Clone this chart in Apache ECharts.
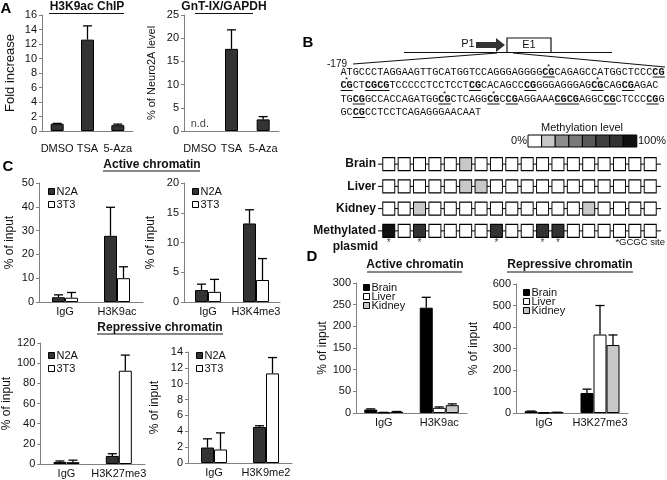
<!DOCTYPE html>
<html>
<head>
<meta charset="utf-8">
<script src="https://cdn.jsdelivr.net/npm/echarts@6/dist/echarts.min.js"></script>
<style>
	html, body { margin: 0; padding: 0; background: #fff; }
	#main { width: 667px; height: 480px; }
</style>
</head>
<body>
<div id="main"></div>
<script>
// ---- A: H3K9ac ChIP / GnT-IX expression ----
var aCats = ['DMSO', 'TSA', '5-Aza']
var chipFold = [1.0, 12.6, 0.8]
var chipSd = [0.05, 1.9, 0.15]
var gntLevel = [null, 17.7, 2.5]
var gntSd = [null, 4.1, 0.6]

// ---- B: methylation (0 = white ... 7 = black) ----
var methRows = ['Brain', 'Liver', 'Kidney', 'Methylated']
var methBrain = [0, 0, 0, 0, 0, 1, 0, 0, 0, 0, 0, 0, 0, 0, 0, 0, 0, 0]
var methLiver = [0, 0, 0, 0, 0, 1, 1, 0, 0, 0, 0, 0, 0, 0, 0, 0, 0, 0]
var methKidney = [0, 0, 1, 0, 0, 0, 0, 0, 0, 0, 0, 0, 0, 1, 0, 0, 0, 0]
var methPlasmid = [7, 0, 6, 0, 0, 0, 0, 6, 0, 0, 6, 6, 0, 0, 0, 0, 0, 0]
var gcgcSites = [0, 2, 7, 10, 11]
var methColors = ['#ffffff', '#c8c8c8', '#8c8c8c', '#7a7a7a', '#585858', '#404040', '#333333', '#111111']
// promoter sequence, [..] = bold CpG, * = GCGC site
var seqLines = [
	'ATGCCCTAGGAAGTTGCATGGTCCAGGGAGGGG*[CG]CAGAGCCATGGCTCCC[CG]',
	'*[CG]CT[CGCG]TCCCCCTCCTCCT[CG]CACAGCC[CG]GGGAGGGAG*[CG]CAG[CG]AGAC',
	'TG[CG]GCCACCAGATGG*[CG]CTCAGG*[CG]C[CG]AGGAAA[CGCG]AGGC[CG]CTCCC[CG]G',
	'GC[CG]CCTCCTCAGAGGGAACAAT'
]

// ---- C: N2A vs 3T3 ----
var c1Cats = ['IgG', 'H3K9ac']
var c1N2a = [2.0, 27.8]
var c1N2aSd = [1.0, 12.0]
var c1T3 = [1.8, 10.0]
var c1T3Sd = [2.2, 4.8]

var c2Cats = ['IgG', 'H3K4me3']
var c2N2a = [2.0, 13.2]
var c2N2aSd = [1.0, 2.3]
var c2T3 = [1.7, 3.7]
var c2T3Sd = [2.1, 3.6]

var c3Cats = ['IgG', 'H3K27me3']
var c3N2a = [2.0, 8.0]
var c3N2aSd = [1.0, 2.2]
var c3T3 = [1.8, 92.5]
var c3T3Sd = [2.0, 15.5]

var c4Cats = ['IgG', 'H3K9me2']
var c4N2a = [1.95, 4.55]
var c4N2aSd = [1.1, 0.15]
var c4T3 = [1.7, 11.3]
var c4T3Sd = [2.1, 2.0]

// ---- D: tissues ----
var d1Cats = ['IgG', 'H3K9ac']
var d1Brain = [8, 243]
var d1BrainSd = [1.5, 24]
var d1Liver = [1, 12]
var d1LiverSd = [0.5, 2]
var d1Kidney = [3, 18]
var d1KidneySd = [0.5, 3]

var d2Cats = ['IgG', 'H3K27me3']
var d2Brain = [8, 93]
var d2BrainSd = [1, 18]
var d2Liver = [1, 365]
var d2LiverSd = [0, 135]
var d2Kidney = [3, 316]
var d2KidneySd = [0.5, 47]

var FONT = 'Liberation Sans, Arial, sans-serif'
var DARK = '#333333'

function yAx(grid, max, step, name, gap, nameSize) {
	return {
		type: 'value', gridIndex: grid, min: 0, max: max, interval: step,
		name: name, nameLocation: 'middle', nameGap: gap, nameRotate: 90,
		nameTextStyle: { fontFamily: FONT, fontSize: nameSize || 12, color: '#111' },
		axisLine: { show: true, lineStyle: { color: '#808080' } },
		axisTick: { show: true, length: 3, lineStyle: { color: '#808080' } },
		axisLabel: { fontFamily: FONT, fontSize: 11, color: '#111', margin: 5 },
		splitLine: { show: false },
	}
}

function xAx(grid, cats, margin) {
	return {
		type: 'category', gridIndex: grid, data: cats,
		axisLine: { lineStyle: { color: '#808080' } },
		axisTick: { length: 4, lineStyle: { color: '#808080' } },
		axisLabel: { fontFamily: FONT, fontSize: 11, color: '#111', margin: margin || 4, interval: 0 },
	}
}

function bar(name, grid, data, color) {
	return {
		type: 'bar', name: name, xAxisIndex: grid, yAxisIndex: grid, data: data,
		barWidth: 13, barGap: '0%',
		itemStyle: { color: color, borderColor: '#000', borderWidth: 1 },
	}
}

// error bar (upper half only), shifted to the idx-th bar of n in a group
function err(grid, vals, sds, idx, n) {
	var d = []
	vals.forEach(function (v, i) {
		if (v != null) d.push([i, v, sds[i]])
	})
	return {
		type: 'custom', xAxisIndex: grid, yAxisIndex: grid, z: 5, data: d,
		renderItem: function (params, api) {
			var v = api.value(1)
			var top = api.coord([api.value(0), v + api.value(2)])
			var base = api.coord([api.value(0), v])
			var x = top[0] + (idx - (n - 1) / 2) * 13
			var st = { stroke: '#000', lineWidth: 1.3 }
			return {
				type: 'group',
				children: [
					{ type: 'line', shape: { x1: x, y1: base[1], x2: x, y2: top[1] }, style: st },
					{ type: 'line', shape: { x1: x - 4.5, y1: top[1], x2: x + 4.5, y2: top[1] }, style: st },
				],
			}
		},
	}
}

function legend(names, left, top, gap) {
	return {
		data: names, left: left, top: top, orient: 'vertical', selectedMode: false,
		icon: 'rect', itemWidth: 6, itemHeight: 6, itemGap: gap,
		itemStyle: { borderColor: '#000', borderWidth: 1 },
		textStyle: { fontFamily: FONT, fontSize: 11, color: '#111', padding: [0, 0, 0, -3] },
	}
}

// underlined bold heading
function heading(txt, cx, cy, x1, x2, uy) {
	return [
		{ type: 'text', x: cx, y: cy, style: { text: txt, fontFamily: FONT, fontSize: 12, fontWeight: 'bold', fill: '#111', align: 'center', verticalAlign: 'middle' } },
		{ type: 'line', shape: { x1: x1, y1: uy, x2: x2, y2: uy }, style: { stroke: '#111', lineWidth: 1.2 } },
	]
}

function letter(t, x, y) {
	return { type: 'text', x: x, y: y, style: { text: t, fontFamily: FONT, fontSize: 15, fontWeight: 'bold', fill: '#000', align: 'center', verticalAlign: 'middle' } }
}

function plain(t, x, y, size, align) {
	return { type: 'text', x: x, y: y, style: { text: t, fontFamily: FONT, fontSize: size, fill: '#111', align: align || 'left', verticalAlign: 'middle' } }
}

// sequence block: rich text + underlines + stars
var SEQ_X = 340.5
var SEQ_CW = 6.12
var seqTop = [72, 85.5, 99, 112.5]
function seqGraphics() {
	var out = []
	seqLines.forEach(function (line, li) {
		var rich = ''
		var idx = 0
		var i = 0
		var star = false
		while (i < line.length) {
			var ch = line[i]
			if (ch === '*') {
				star = true
				i++
			} else if (ch === '[') {
				var end = line.indexOf(']', i)
				var cg = line.slice(i + 1, end)
				rich += '{b|' + cg + '}'
				out.push({ type: 'line', shape: { x1: SEQ_X + idx * SEQ_CW, y1: seqTop[li] + 5, x2: SEQ_X + (idx + cg.length) * SEQ_CW, y2: seqTop[li] + 5 }, style: { stroke: '#111', lineWidth: 1 } })
				if (star) {
					out.push({ type: 'text', x: SEQ_X + (idx + 1) * SEQ_CW, y: seqTop[li] - 5.5, style: { text: '*', fontFamily: FONT, fontSize: 8, fill: '#111', align: 'center', verticalAlign: 'middle' } })
					star = false
				}
				idx += cg.length
				i = end + 1
			} else {
				var j = i
				while (j < line.length && line[j] !== '[' && line[j] !== '*') j++
				rich += '{n|' + line.slice(i, j) + '}'
				idx += j - i
				i = j
			}
		}
		out.push({
			type: 'text', x: SEQ_X, y: seqTop[li],
			style: {
				text: rich, verticalAlign: 'middle', fill: '#111',
				rich: {
					n: { fontFamily: 'Liberation Mono, monospace', fontSize: 10.2, fill: '#111' },
					b: { fontFamily: 'Liberation Mono, monospace', fontSize: 10.2, fontWeight: 'bold', fill: '#111' },
				},
			},
		})
	})
	return out
}

// methylation level key
function methKey() {
	var out = []
	methColors.forEach(function (c, i) {
		out.push({ type: 'rect', shape: { x: 528 + i * 13.6, y: 135, width: 13.6, height: 12 }, style: { fill: c, stroke: '#000', lineWidth: 1 } })
	})
	out.push(plain('Methylation level', 582, 128, 11, 'center'))
	out.push(plain('0%', 527, 141, 11, 'right'))
	out.push(plain('100%', 638, 141, 11, 'left'))
	return out
}

var methData = []
;[methBrain, methLiver, methKidney, methPlasmid].forEach(function (row, r) {
	row.forEach(function (lv, c) {
		methData.push([c, methRows[r], lv])
	})
})

var rowLines = methRows.map(function (r) {
	return {
		type: 'line', xAxisIndex: 2, yAxisIndex: 2, data: [[-0.7, r], [17.7, r]],
		symbol: 'none', silent: true, lineStyle: { color: '#000', width: 1 }, z: 1,
	}
})

var graphics = []
	.concat(heading('H3K9ac ChIP', 87, 7, 49, 124, 13.5))
	.concat(heading('GnT-IX/GAPDH', 224, 7, 195, 253, 13.5))
	.concat(heading('Active chromatin', 152, 165, 103, 200, 171))
	.concat(heading('Repressive chromatin', 160, 328, 97, 223, 334))
	.concat(heading('Active chromatin', 415, 265, 367, 462, 272))
	.concat(heading('Repressive chromatin', 570, 265, 507, 633, 272))
	.concat([letter('A', 6, 9), letter('B', 308, 43), letter('C', 8, 167), letter('D', 312, 257)])
	.concat(seqGraphics())
	.concat(methKey())
	.concat([
		plain('-179', 327, 64, 10),
		{ type: 'line', shape: { x1: 353, y1: 64, x2: 497, y2: 53 }, style: { stroke: '#111', lineWidth: 1.2 } },
		{ type: 'line', shape: { x1: 513, y1: 53, x2: 665, y2: 67 }, style: { stroke: '#111', lineWidth: 1.2 } },
		{ type: 'line', shape: { x1: 404, y1: 52.5, x2: 612, y2: 52.5 }, style: { stroke: '#111', lineWidth: 1.2 } },
		{ type: 'polygon', shape: { points: [[476, 42], [496, 42], [496, 38], [505, 45], [496, 52], [496, 48], [476, 48]] }, style: { fill: '#333' } },
		{ type: 'rect', shape: { x: 507, y: 38, width: 44, height: 14.5 }, style: { fill: '#fff', stroke: '#111', lineWidth: 1.2 } },
		plain('E1', 529, 45, 11, 'center'),
		plain('P1', 468, 44, 11, 'center'),
		{ type: 'text', x: 378, y: 247, style: { text: 'plasmid', fontFamily: FONT, fontSize: 12, fontWeight: 'bold', fill: '#111', align: 'right', verticalAlign: 'middle' } },
		plain('*GCGC site', 665, 242, 9.5, 'right'),
	])

var chart = echarts.init(document.getElementById('main'))
chart.setOption({
	animation: false,
	backgroundColor: '#fff',
	textStyle: { fontFamily: FONT },
	grid: [
		{ left: 42, top: 15, width: 91, height: 116 },
		{ left: 184, top: 15, width: 95, height: 116 },
		{ left: 378, top: 153, width: 283, height: 89 },
		{ left: 39, top: 183, width: 104, height: 119 },
		{ left: 184, top: 183, width: 96, height: 119 },
		{ left: 39, top: 343, width: 106, height: 121 },
		{ left: 188, top: 352, width: 104, height: 111 },
		{ left: 356, top: 283, width: 111, height: 130 },
		{ left: 516, top: 284, width: 112, height: 129 },
	],
	xAxis: [
		xAx(0, aCats, 12),
		xAx(1, aCats, 12),
		{ type: 'value', gridIndex: 2, min: -0.7, max: 17.7, show: false },
		xAx(3, c1Cats),
		xAx(4, c2Cats),
		xAx(5, c3Cats),
		xAx(6, c4Cats),
		xAx(7, d1Cats),
		xAx(8, d2Cats),
	],
	yAxis: [
		yAx(0, 16, 2, 'Fold increase', 25, 13),
		yAx(1, 25, 5, '% of Neuro2A level', 27, 11),
		{
			type: 'category', gridIndex: 2, data: methRows, inverse: true,
			axisLine: { show: false }, axisTick: { show: false },
			axisLabel: { fontFamily: FONT, fontSize: 12, fontWeight: 'bold', color: '#111', margin: 2 },
		},
		yAx(3, 50, 10, '% of input', 23),
		yAx(4, 20, 5, '% of input', 27),
		yAx(5, 120, 20, '% of input', 23),
		yAx(6, 14, 2, '% of input', 27),
		yAx(7, 300, 50, '% of input', 24),
		yAx(8, 600, 100, '% of input', 36),
	],
	legend: [
		legend(['N2A', '3T3'], 43, 181, 2),
		legend(['N2A', '3T3'], 187, 181, 2),
		legend(['N2A', '3T3'], 43, 345, 2),
		legend(['N2A', '3T3'], 191, 345, 2),
		legend(['Brain', 'Liver', 'Kidney'], 358, 277, -2),
		legend(['Brain', 'Liver', 'Kidney'], 518, 282, -2),
	],
	graphic: graphics,
	series: [
		bar('ChIP', 0, chipFold, DARK),
		err(0, chipFold, chipSd, 0, 1),
		bar('GnT-IX', 1, gntLevel, DARK),
		err(1, gntLevel, gntSd, 0, 1),
		{
			type: 'scatter', xAxisIndex: 1, yAxisIndex: 1, data: [['DMSO', 0]], symbolSize: 0,
			label: { show: true, formatter: 'n.d.', position: 'top', distance: 2, fontFamily: FONT, fontSize: 11, color: '#111' },
		},
	].concat(rowLines).concat([
		{
			type: 'scatter', xAxisIndex: 2, yAxisIndex: 2, data: methData, symbol: 'rect', symbolSize: [12, 13], z: 3,
			itemStyle: { borderColor: '#000', borderWidth: 1, opacity: 1, color: function (p) { return methColors[p.value[2]] } },
		},
		{
			type: 'scatter', xAxisIndex: 2, yAxisIndex: 2, symbolSize: 0,
			data: gcgcSites.map(function (c) { return [c, 'Methylated'] }),
			label: { show: true, formatter: '*', position: 'bottom', distance: 7, fontSize: 10, color: '#111' },
		},
		bar('N2A', 3, c1N2a, DARK), bar('3T3', 3, c1T3, '#fff'),
		err(3, c1N2a, c1N2aSd, 0, 2), err(3, c1T3, c1T3Sd, 1, 2),
		bar('N2A', 4, c2N2a, DARK), bar('3T3', 4, c2T3, '#fff'),
		err(4, c2N2a, c2N2aSd, 0, 2), err(4, c2T3, c2T3Sd, 1, 2),
		bar('N2A', 5, c3N2a, DARK), bar('3T3', 5, c3T3, '#fff'),
		err(5, c3N2a, c3N2aSd, 0, 2), err(5, c3T3, c3T3Sd, 1, 2),
		bar('N2A', 6, c4N2a, DARK), bar('3T3', 6, c4T3, '#fff'),
		err(6, c4N2a, c4N2aSd, 0, 2), err(6, c4T3, c4T3Sd, 1, 2),
		bar('Brain', 7, d1Brain, '#000'), bar('Liver', 7, d1Liver, '#fff'), bar('Kidney', 7, d1Kidney, '#c8c8c8'),
		err(7, d1Brain, d1BrainSd, 0, 3), err(7, d1Liver, d1LiverSd, 1, 3), err(7, d1Kidney, d1KidneySd, 2, 3),
		bar('Brain', 8, d2Brain, '#000'), bar('Liver', 8, d2Liver, '#fff'), bar('Kidney', 8, d2Kidney, '#c8c8c8'),
		err(8, d2Brain, d2BrainSd, 0, 3), err(8, d2Liver, d2LiverSd, 1, 3), err(8, d2Kidney, d2KidneySd, 2, 3),
	]),
})
</script>
</body>
</html>
